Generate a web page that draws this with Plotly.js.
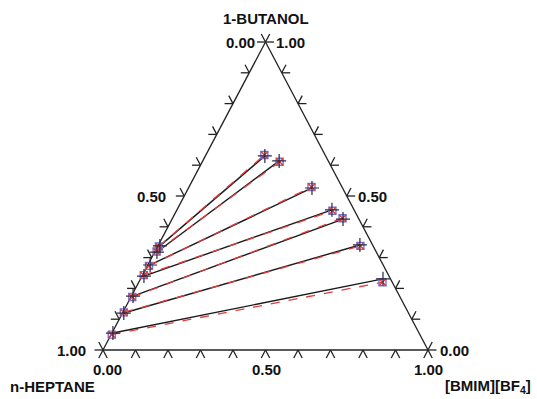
<!DOCTYPE html>
<html>
<head>
<meta charset="utf-8">
<script src="https://cdn.plot.ly/plotly-3.0.1.min.js"></script>
<style>
  html, body { margin: 0; padding: 0; background: #fff; }
  #chart { width: 537px; height: 399px; }
</style>
</head>
<body>
<div id="chart"></div>
<script>
// Liquid-liquid equilibrium tie lines, n-heptane + 1-butanol + [BMIM][BF4]
// Mass fractions of 1-butanol and [BMIM][BF4] in each phase.

// Experimental, heptane-rich phase
const expHepButanol = [0.338, 0.318, 0.276, 0.240, 0.175, 0.120, 0.055];
const expHepIL      = [0.006, 0.007, 0.007, 0.006, 0.005, 0.004, 0.003];
// Experimental, IL-rich phase
const expILButanol  = [0.630, 0.614, 0.526, 0.455, 0.425, 0.341, 0.231];
const expILIL       = [0.183, 0.235, 0.380, 0.477, 0.526, 0.620, 0.746];

// Correlated (model), heptane-rich phase
const calHepButanol = [0.336, 0.320, 0.273, 0.243, 0.172, 0.122, 0.050];
const calHepIL      = [0.004, 0.005, 0.005, 0.004, 0.004, 0.003, 0.002];
// Correlated (model), IL-rich phase
const calILButanol  = [0.633, 0.611, 0.529, 0.452, 0.428, 0.338, 0.220];
const calILIL       = [0.180, 0.238, 0.377, 0.480, 0.523, 0.623, 0.750];

// Edge labels
const tickValues = [0, 0.1, 0.2, 0.3, 0.4, 0.5, 0.6, 0.7, 0.8, 0.9, 1.0];
const vertexNames = ['1-BUTANOL', 'n-HEPTANE', '[BMIM][BF<sub>4</sub>]'];

// Triangle projection: heptane at (0,0), IL at (1,0), butanol at apex (0.5,1)
function proj(il, but) { return [il + 0.5 * but, but]; }

// Build tie-line traces (pairs separated by gaps)
function tieLines(hb, hi, ib, ii) {
  const x = [], y = [];
  for (let k = 0; k < hb.length; k++) {
    const a = proj(hi[k], hb[k]), b = proj(ii[k], ib[k]);
    x.push(a[0], b[0], null); y.push(a[1], b[1], null);
  }
  return {x, y};
}
function points(hb, hi, ib, ii) {
  const x = [], y = [];
  for (let k = 0; k < hb.length; k++) {
    const a = proj(hi[k], hb[k]), b = proj(ii[k], ib[k]);
    x.push(a[0], b[0]); y.push(a[1], b[1]);
  }
  return {x, y};
}

// Triangle frame with chevron ticks: each tick is the outward extension
// of the two composition lines meeting the edge.
const d = 0.026;
const fx = [], fy = [];
function seg(p, q) { fx.push(p[0], q[0], null); fy.push(p[1], q[1], null); }
seg(proj(0, 0), proj(1, 0));
seg(proj(1, 0), proj(0, 1));
seg(proj(0, 1), proj(0, 0));
tickValues.forEach(t => {
  // bottom edge (butanol = 0), IL = t
  seg(proj(t, 0), proj(t, -d));
  seg(proj(t, 0), proj(t + d, -d));
  // left edge (IL = 0), butanol = t
  seg(proj(0, t), proj(-d, t));
  seg(proj(0, t), proj(-d, t + d));
  // right edge (heptane = 0), butanol = t
  seg(proj(1 - t, t), proj(1 - t + d, t));
  seg(proj(1 - t, t), proj(1 - t, t + d));
});

const expL = tieLines(expHepButanol, expHepIL, expILButanol, expILIL);
const calL = tieLines(calHepButanol, calHepIL, calILButanol, calILIL);
const expP = points(expHepButanol, expHepIL, expILButanol, expILIL);
const calP = points(calHepButanol, calHepIL, calILButanol, calILIL);

const traces = [
  {x: fx, y: fy, mode: 'lines', line: {color: '#222', width: 1.3}, hoverinfo: 'skip'},
  {x: expL.x, y: expL.y, mode: 'lines', line: {color: '#1a1a1a', width: 1.4}, name: 'exp'},
  {x: calL.x, y: calL.y, mode: 'lines', line: {color: '#e23b3b', width: 1.3, dash: 'dash'}, name: 'calc'},
  {x: calP.x, y: calP.y, mode: 'markers', cliponaxis: false,
   marker: {symbol: 'square-open', size: 7, color: '#7476d8', line: {width: 1.4}}},
  {x: calP.x, y: calP.y, mode: 'markers', cliponaxis: false,
   marker: {symbol: 'x-thin-open', size: 7, color: '#e23b3b', line: {width: 1.4}}},
  {x: expP.x, y: expP.y, mode: 'markers', cliponaxis: false,
   marker: {symbol: 'cross-thin-open', size: 10, color: '#2a2a3a', line: {width: 1.2}}}
];

// Pixel helpers for label placement (triangle spans 103..428 px, 350..42 px)
const X0 = 103, W = 325, Y0 = 350, H = 308;
function px(x) { return (x - X0) / W; }
function py(y) { return (Y0 - y) / H; }

const font = {family: 'Liberation Sans, Arial, sans-serif', size: 15, color: '#111'};
function lab(text, x, y, xanchor) {
  return {text: '<b>' + text + '</b>', x: px(x), y: py(y), xref: 'x', yref: 'y',
          xanchor: xanchor || 'center', yanchor: 'middle', showarrow: false, font: font};
}

const annotations = [
  lab(vertexNames[0], 266, 18),
  lab('0.00', 257, 42, 'right'),
  lab('1.00', 274, 42, 'left'),
  lab('0.50', 168, 196, 'right'),
  lab('0.50', 356, 196, 'left'),
  lab('1.00', 88, 350, 'right'),
  lab('0.00', 438, 350, 'left'),
  lab('0.00', 107, 369),
  lab('0.50', 266, 369),
  lab('1.00', 428, 369),
  lab(vertexNames[1], 8, 386, 'left'),
  lab(vertexNames[2], 533, 386, 'right')
];

const layout = {
  width: 537, height: 399,
  margin: {l: 0, r: 0, t: 0, b: 0, pad: 0},
  paper_bgcolor: '#fff', plot_bgcolor: '#fff',
  showlegend: false,
  xaxis: {range: [px(0), px(537)], visible: false, fixedrange: true},
  yaxis: {range: [py(399), py(0)], visible: false, fixedrange: true},
  annotations: annotations
};

Plotly.newPlot('chart', traces, layout, {staticPlot: true, displayModeBar: false});
</script>
</body>
</html>
